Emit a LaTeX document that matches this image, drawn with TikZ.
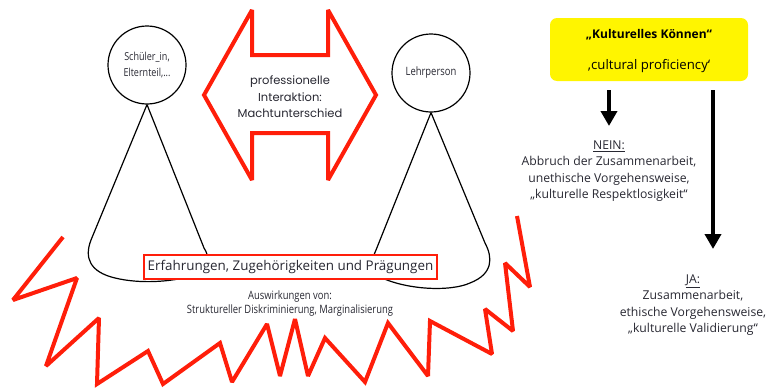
\documentclass[tikz,border=0pt]{standalone}
\usepackage{fontspec}
\setmainfont{Open Sans}
\newfontfamily\condfont[FakeStretch=0.82]{Open Sans}
\newfontfamily\geofont{Poppins}
\usetikzlibrary{arrows.meta}
\definecolor{zred}{RGB}{255,30,10}
\definecolor{zyel}{RGB}{255,245,0}
\definecolor{ztext}{RGB}{40,40,50}
\tikzset{
  person/.style={circle,draw=black,line width=1.2pt,minimum size=78pt,inner sep=0pt,align=center,text=ztext},
  conline/.style={draw=black,line width=1.2pt},
  redline/.style={draw=zred,line width=4pt,line join=miter,miter limit=2.2},
  blackarrow/.style={line width=4pt,-{Triangle[width=16pt,length=15pt]}},
  info/.style={align=center,text=ztext,font=\fontsize{12.2}{16.3}\selectfont}
}
\begin{document}
\begin{tikzpicture}[x=1pt,y=-1pt]
\useasboundingbox (0,0) rectangle (770,388);
% zigzag
\draw[redline] (63,237) -- (13,300) -- (77,278) -- (46,366) -- (99,318) -- (97,384) -- (148,351) -- (163,384) -- (220,343) -- (232,382) -- (267,324) -- (280,376) -- (295,319) -- (308,376) -- (325,338) -- (365,382) -- (388,323) -- (428,376) -- (430,321) -- (492,354) -- (485,309) -- (513,331) -- (505,263) -- (530,287) -- (517,216);
% double arrow
\draw[redline] (204,95) -- (252,10) -- (252,55) -- (328,55) -- (328,10) -- (376,95) -- (328,180) -- (328,133) -- (252,133) -- (252,180) -- cycle;
\node[font=\geofont\fontsize{11.5}{16.5}\selectfont,align=center,text=ztext] (inter) at (290,97) {professionelle\\Interaktion:\\Machtunterschied};
% persons
\node[person,font=\condfont\fontsize{11}{16}\selectfont] (p1) at (147,65) {Schüler\_in,\\Elternteil,...};
\node[person,font=\condfont\fontsize{11.5}{12}\selectfont] (p2) at (431,73) {Lehrperson};
% cones
\draw[conline] (p1.south) -- (91,240) .. controls (84,258) and (90,272) .. (115,278) .. controls (140,284) and (170,282) .. (192,276);
\draw[conline] (p1.south) -- (204,248) .. controls (207,253) .. (208,262);
\draw[conline] (p2.south) -- (376,250) .. controls (374,254) .. (373,262);
\draw[conline] (p2.south) -- (485,243) .. controls (493,258) and (493,274) .. (470,283) .. controls (450,292) and (405,290) .. (378,276);
% experience box
\node[draw=zred,line width=2pt,fill=white,text=ztext,font=\fontsize{13.4}{15}\selectfont,minimum width=293pt,minimum height=24pt,inner sep=0pt] (exp) at (290.5,267) {Erfahrungen, Zugehörigkeiten und Prägungen};
\node[align=center,text=ztext,font=\condfont\fontsize{11.5}{14}\selectfont] (ausw) at (290,304) {Auswirkungen von:\\Struktureller Diskriminierung, Marginalisierung};
% yellow box
\fill[zyel,rounded corners=7pt] (550,18) rectangle (748,81);
\node[font=\bfseries\fontsize{12}{13}\selectfont] (kk) at (649,35) {„Kulturelles Können“};
\node[font=\fontsize{13.2}{14}\selectfont] (cp) at (649,66) {‚cultural proficiency‘};
\coordinate (a1s) at (609,90);
\coordinate (a1e) at (609,126);
\coordinate (a2s) at (713,90);
\coordinate (a2e) at (713,249);
\draw[blackarrow] (a1s) -- (a1e);
\draw[blackarrow] (a2s) -- (a2e);
\node[info] (nein) at (609,171) {\underline{NEIN:}\\Abbruch der Zusammenarbeit,\\unethische Vorgehensweise,\\„kulturelle Respektlosigkeit“};
\node[info] (ja) at (693,305) {\underline{JA:}\\Zusammenarbeit,\\ethische Vorgehensweise,\\„kulturelle Validierung“};
\end{tikzpicture}
\end{document}
